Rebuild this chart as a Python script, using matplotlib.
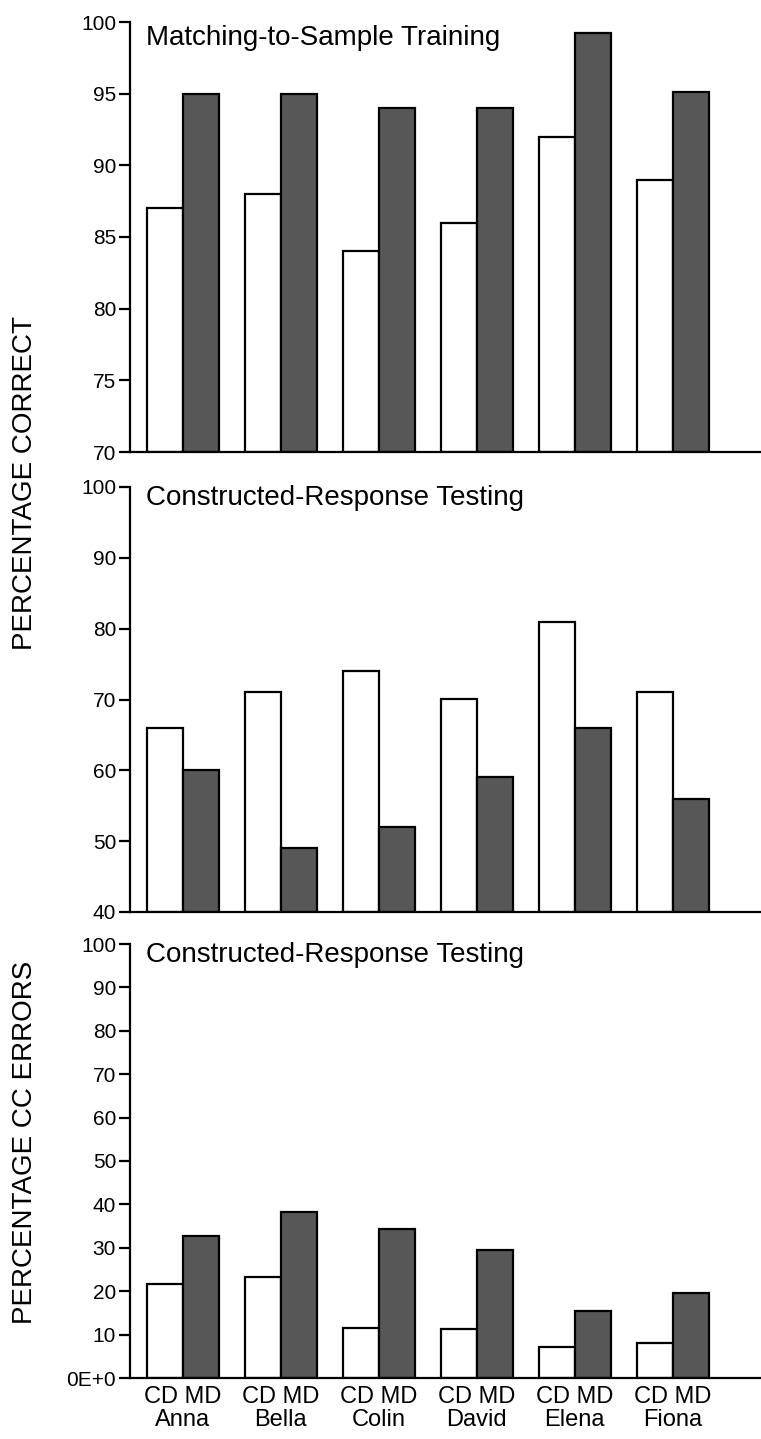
import matplotlib
import matplotlib.pyplot as plt
import numpy as np

matplotlib.use("Agg")
plt.rcParams["font.family"] = ["Liberation Sans", "DejaVu Sans"]

names = ["Anna", "Bella", "Colin", "David", "Elena", "Fiona"]

# matching-to-sample training, % correct
mts_cd = [87, 88, 84, 86, 92, 89]
mts_md = [95, 95, 94, 94, 99.2, 95.1]

# constructed-response testing, % correct
crt_cd = [66, 71, 74, 70, 81, 71]
crt_md = [60, 49, 52, 59, 66, 56]

# constructed-response testing, % CC errors
err_cd = [21.7, 23.3, 11.5, 11.3, 7.2, 8.1]
err_md = [32.8, 38.3, 34.4, 29.4, 15.4, 19.7]

panels = [
    ("Matching-to-Sample Training", mts_cd, mts_md, (70, 100), np.arange(70, 101, 5)),
    ("Constructed-Response Testing", crt_cd, crt_md, (40, 100), np.arange(40, 101, 10)),
    ("Constructed-Response Testing", err_cd, err_md, (0, 100), np.arange(0, 101, 10)),
]

W, H = 761, 1439
fig = plt.figure(figsize=(W / 100, H / 100), dpi=100)

# axes boxes in pixels: (top, bottom)
boxes = [(22, 452), (487, 912), (944, 1378)]
ax_left, ax_right = 130, 761
title_y = [0.9465, 0.958, 0.958]

x = np.arange(len(names))
bw = 0.37
dark = "#575757"

for k, ((title, cd, md, ylim, yticks), (top, bot)) in enumerate(zip(panels, boxes)):
    ax = fig.add_axes([ax_left / W, 1 - bot / H, (ax_right - ax_left) / W, (bot - top) / H])
    ax.bar(x - bw / 2, np.array(cd) - ylim[0], bw, bottom=ylim[0],
           facecolor="white", edgecolor="black", linewidth=1.6)
    ax.bar(x + bw / 2, np.array(md) - ylim[0], bw, bottom=ylim[0],
           facecolor=dark, edgecolor="black", linewidth=1.6)
    ax.set_xlim(-0.54, 5.9)
    ax.set_ylim(*ylim)
    ax.set_yticks(yticks)
    labels = [str(int(v)) for v in yticks]
    if k == 2:
        labels[0] = "0E+0"
    ax.set_yticklabels(labels, fontsize=15)
    for s in ("top", "right"):
        ax.spines[s].set_visible(False)
    for s in ("left", "bottom"):
        ax.spines[s].set_linewidth(1.6)
    ax.tick_params(axis="y", direction="out", length=8, width=1.6, pad=2)
    if k == 2:
        ax.set_xticks(x)
        ax.set_xticklabels([f"CD MD\n{n}" for n in names], fontsize=17, linespacing=1.05)
        ax.tick_params(axis="x", length=0, pad=6)
    else:
        ax.set_xticks([])
    ax.text(0.025, title_y[k], title, transform=ax.transAxes, fontsize=20,
            ha="left", va="baseline")

fig.text(25 / W, 1 - 483 / H, "PERCENTAGE CORRECT", rotation=90, fontsize=20,
         ha="center", va="center")
fig.text(25 / W, 1 - 1142 / H, "PERCENTAGE CC ERRORS", rotation=90, fontsize=20,
         ha="center", va="center")

fig.savefig("out.png", dpi=100)
